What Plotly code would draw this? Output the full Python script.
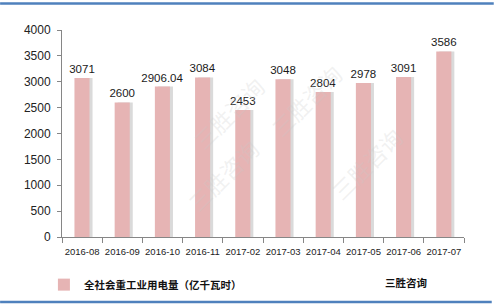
import plotly.graph_objects as go

categories = ["2016-08", "2016-09", "2016-10", "2016-11", "2017-02",
              "2017-03", "2017-04", "2017-05", "2017-06", "2017-07"]
values = [3071, 2600, 2906.04, 3084, 2453, 3048, 2804, 2978, 3091, 3586]
labels = ["3071", "2600", "2906.04", "3084", "2453", "3048", "2804", "2978", "3091", "3586"]
series_name = "全社会重工业用电量（亿千瓦时）"
y_ticks = [0, 500, 1000, 1500, 2000, 2500, 3000, 3500, 4000]

font_num = "Liberation Sans"
font_cjk = "Noto Sans CJK SC"

fig = go.Figure()
# shadow
fig.add_trace(go.Bar(x=categories, y=values, width=0.375, offset=-0.115,
                     marker=dict(color="#DADADA", line=dict(width=0)),
                     showlegend=False, hoverinfo="skip"))
fig.add_trace(go.Bar(x=categories, y=values, width=0.375, offset=-0.19,
                     name=series_name,
                     marker=dict(color="#E6B4B4", line=dict(width=0)),
                     text=labels, textposition="outside", cliponaxis=False,
                     constraintext="none",
                     textfont=dict(family=font_num, size=11.5, color="#1a1a1a")))

wm = dict(family=font_cjk, size=22, color="rgba(200,200,200,0.25)")

fig.update_layout(
    width=500, height=307,
    margin=dict(l=62, r=36, t=30, b=70, autoexpand=False),
    paper_bgcolor="white", plot_bgcolor="white",
    barmode="overlay",
    showlegend=True,
    legend=dict(orientation="h", x=-0.045, y=-0.16, xanchor="left", yanchor="top",
                font=dict(family=font_cjk, size=10.5, color="#111", weight="bold"),
                bgcolor="rgba(0,0,0,0)"),
    xaxis=dict(type="category", tickson="boundaries", ticks="outside", ticklen=5,
               tickcolor="#868686", tickangle=0, ticklabelstandoff=6,
               showline=True, linecolor="#868686", linewidth=1,
               tickfont=dict(family=font_num, size=9.5, color="#222"),
               showgrid=False),
    yaxis=dict(range=[0, 4000], tickvals=y_ticks, ticks="outside", ticklen=4,
               tickcolor="#868686", showline=True, linecolor="#868686",
               linewidth=1, showgrid=False, ticklabelstandoff=4,
               tickfont=dict(family=font_num, size=12, color="#222")),
    shapes=[
        dict(type="line", xref="paper", yref="paper", x0=-0.154, x1=1.074,
             y0=1.128, y1=1.128, line=dict(color="#4F81BD", width=2.5)),
        dict(type="line", xref="paper", yref="paper", x0=-0.154, x1=1.069,
             y0=-0.314, y1=-0.314, line=dict(color="#4F81BD", width=2.5)),
    ],
    annotations=[
        dict(text="三胜咨询", xref="paper", yref="paper", x=0.856, y=-0.222,
             xanchor="center", yanchor="middle", showarrow=False,
             font=dict(family=font_cjk, size=10.5, color="#111", weight="bold")),
        dict(text="三胜咨询", xref="paper", yref="paper", x=0.3, y=0.82,
             textangle=-45, showarrow=False, font=wm),
        dict(text="三胜咨询", xref="paper", yref="paper", x=0.72, y=0.88,
             textangle=-45, showarrow=False, font=wm),
        dict(text="三胜咨询", xref="paper", yref="paper", x=0.4, y=0.08,
             textangle=-45, showarrow=False, font=wm),
        dict(text="三胜咨询", xref="paper", yref="paper", x=0.87, y=0.14,
             textangle=-45, showarrow=False, font=wm),
    ],
)

fig.write_html("out.html")
